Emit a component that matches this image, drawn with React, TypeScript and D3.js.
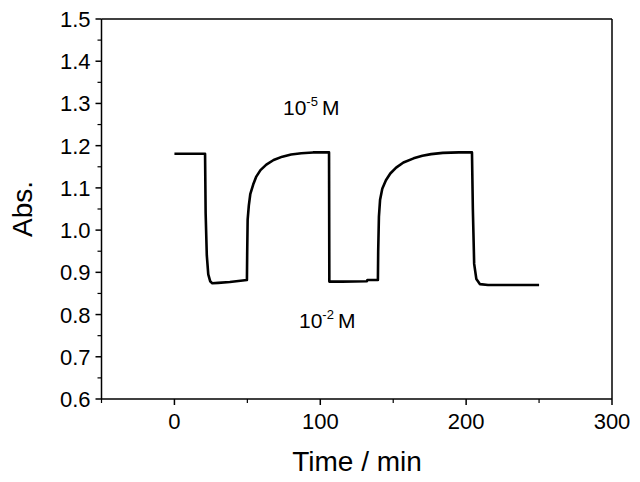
import React from 'react';
import * as d3 from 'd3';

// time (min) and absorbance
const timeMin = [0, 21, 21.4, 22.2, 23.2, 24.5, 26, 30, 38, 49.7, 49.9, 50.2, 51, 52, 54, 56, 59, 63, 68, 74, 80, 87, 95, 106, 106.2, 115, 132, 132.3, 139.5, 139.7, 140.2, 141, 142.5, 145, 148, 152, 157, 164, 170, 176, 184, 195, 204, 204.6, 205.5, 207, 209.5, 215, 230, 250];
const absValues = [1.181, 1.181, 1.04, 0.94, 0.895, 0.879, 0.874, 0.875, 0.877, 0.882, 0.95, 1.025, 1.058, 1.085, 1.108, 1.126, 1.142, 1.155, 1.166, 1.174, 1.179, 1.182, 1.184, 1.184, 0.878, 0.878, 0.879, 0.882, 0.882, 0.95, 1.032, 1.072, 1.098, 1.118, 1.134, 1.148, 1.16, 1.17, 1.176, 1.18, 1.183, 1.184, 1.184, 1.05, 0.92, 0.884, 0.872, 0.870, 0.870, 0.870];

const xTicks = [0, 100, 200, 300];
const xMinor = [-50, 50, 150, 250];
const yTicks = [0.6, 0.7, 0.8, 0.9, 1.0, 1.1, 1.2, 1.3, 1.4, 1.5];
const yMinor = [0.65, 0.75, 0.85, 0.95, 1.05, 1.15, 1.25, 1.35, 1.45];

const W = 640;
const H = 482;
const left = 101.5, right = 612, top = 19, bottom = 399;
const font = '"Liberation Sans", Arial, sans-serif';

export default function App() {
  const x = d3.scaleLinear().domain([-50, 300]).range([left, right]);
  const y = d3.scaleLinear().domain([0.6, 1.5]).range([bottom, top]);

  const line = d3.line<number>()
    .x((_, i) => x(timeMin[i]))
    .y(d => y(d));

  return (
    <svg width={W} height={H} style={{ position: 'absolute', left: 0, top: 0, background: '#fff' }}>
      <rect width={W} height={H} fill="#fff" />
      {/* frame */}
      <line x1={left} x2={right} y1={top} y2={top} stroke="#000" strokeWidth={1.5} />
      <line x1={right} x2={right} y1={top} y2={bottom} stroke="#000" strokeWidth={1.5} />
      <line x1={left} x2={right} y1={bottom} y2={bottom} stroke="#000" strokeWidth={1.5} />
      <line x1={left} x2={left} y1={top} y2={bottom} stroke="#000" strokeWidth={1.5} />

      {/* x ticks */}
      {xTicks.map(t => (
        <g key={'xt' + t}>
          <line x1={x(t)} x2={x(t)} y1={bottom} y2={bottom + 6} stroke="#000" strokeWidth={1.5} />
          <text x={x(t)} y={bottom + 30} textAnchor="middle" fontFamily={font} fontSize={22}>{t}</text>
        </g>
      ))}
      {xMinor.map(t => (
        <line key={'xm' + t} x1={x(t)} x2={x(t)} y1={bottom} y2={bottom + 4} stroke="#000" strokeWidth={1.2} />
      ))}

      {/* y ticks */}
      {yTicks.map(t => (
        <g key={'yt' + t}>
          <line x1={left - 6} x2={left} y1={y(t)} y2={y(t)} stroke="#000" strokeWidth={1.5} />
          <text x={left - 11} y={y(t) + 8} textAnchor="end" fontFamily={font} fontSize={22}>{t.toFixed(1)}</text>
        </g>
      ))}
      {yMinor.map(t => (
        <line key={'ym' + t} x1={left - 4} x2={left} y1={y(t)} y2={y(t)} stroke="#000" strokeWidth={1.2} />
      ))}

      {/* trace */}
      <path d={line(absValues) || ''} fill="none" stroke="#000" strokeWidth={2.6} strokeLinejoin="round" />

      {/* annotations */}
      <text x={283} y={115} fontFamily={font} fontSize={21}>
        10<tspan dy={-9} fontSize={13}>-5</tspan><tspan dy={9} dx={4}>M</tspan>
      </text>
      <text x={299} y={328} fontFamily={font} fontSize={21}>
        10<tspan dy={-9} fontSize={13}>-2</tspan><tspan dy={9} dx={4}>M</tspan>
      </text>

      {/* axis titles */}
      <text x={357} y={471} textAnchor="middle" fontFamily={font} fontSize={28}>Time / min</text>
      <text transform={`translate(32,${(top + bottom) / 2}) rotate(-90)`} textAnchor="middle" fontFamily={font} fontSize={28}>Abs.</text>
    </svg>
  );
}
